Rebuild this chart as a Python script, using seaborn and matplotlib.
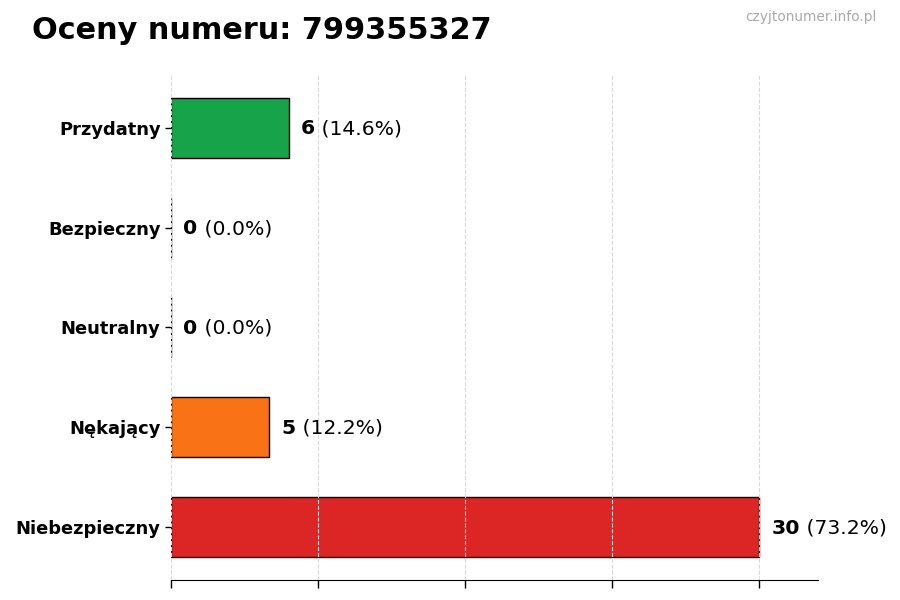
import matplotlib
matplotlib.use("Agg")
import matplotlib.pyplot as plt
import seaborn as sns
import pandas as pd

categories = ["Przydatny", "Bezpieczny", "Neutralny", "Nękający", "Niebezpieczny"]
counts = [6, 0, 0, 5, 30]
percents = [14.6, 0.0, 0.0, 12.2, 73.2]
colors = ["#16a34a", "#2563eb", "#6b7280", "#f97316", "#dc2626"]
title = "Oceny numeru: 799355327"
watermark = "czyjtonumer.info.pl"

sns.set_style("white")
plt.rcParams["font.family"] = ["DejaVu Sans"]
plt.rcParams["text.color"] = "black"
plt.rcParams["xtick.color"] = "black"
plt.rcParams["ytick.color"] = "black"

df = pd.DataFrame({"cat": categories, "count": counts})

fig = plt.figure(figsize=(9, 6), dpi=100)
ax = fig.add_axes([0.19, 0.0333, 0.719, 0.842])

sns.barplot(data=df, x="count", y="cat", hue="cat", palette=colors, order=categories,
            hue_order=categories, legend=False, width=0.6, edgecolor="black",
            linewidth=1.0, saturation=1, ax=ax, zorder=1)

n = len(categories)
ax.set_ylim(n - 1 + 0.53, -0.53)
xmax = max(counts)
ax.set_xlim(0, xmax * 1.1)
ax.set_xticks([xmax * i / 4 for i in range(5)])
ax.set_xticklabels([])
ax.set_axisbelow(False)
ax.grid(axis="x", linestyle="--", color="#d9d9d9", linewidth=0.8)
ax.set_xlabel("")
ax.set_ylabel("")
for s in ["top", "right", "left"]:
    ax.spines[s].set_visible(False)
ax.spines["bottom"].set_color("black")
ax.tick_params(axis="x", length=6, color="black", width=1, bottom=True)
ax.tick_params(axis="y", length=4, color="black", width=1, left=True, labelcolor="black")
for lbl in ax.get_yticklabels():
    lbl.set_fontweight("bold")
    lbl.set_fontsize(12.9)

from matplotlib.offsetbox import TextArea, HPacker, AnnotationBbox
for i, (c, p) in enumerate(zip(counts, percents)):
    t1 = TextArea(f"{c}", textprops=dict(fontsize=14.7, fontweight="bold", color="black"))
    t2 = TextArea(f" ({p:.1f}%)", textprops=dict(fontsize=14.7, color="black"))
    box = HPacker(children=[t1, t2], align="baseline", pad=0, sep=0)
    ab = AnnotationBbox(box, (c, i), xybox=(9, -0.7), xycoords="data",
                        boxcoords="offset points", box_alignment=(0, 0.5),
                        frameon=False, pad=0)
    ax.add_artist(ab)

fig.text(0.036, 0.949, title, fontsize=21.8, fontweight="bold", ha="left", va="center", color="black")
fig.text(0.974, 0.971, watermark, fontsize=9.9, color="#aaaaaa", ha="right", va="center")

fig.savefig("out.png", dpi=100)
